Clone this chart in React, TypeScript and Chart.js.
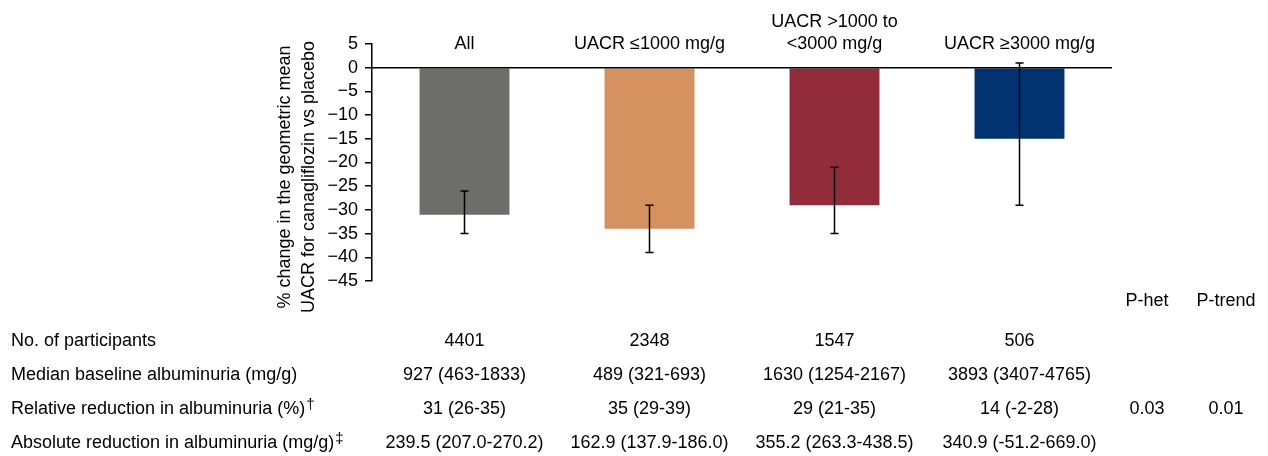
import React, { useEffect, useRef } from "react";
import { Chart, registerables } from "chart.js";

Chart.register(...registerables);

// ---------- data ----------
const categories: string[][] = [
  ["All"],
  ["UACR ≤1000 mg/g"],
  ["UACR >1000 to", "<3000 mg/g"],
  ["UACR ≥3000 mg/g"],
];
const changeValues = [-31, -34, -29, -15];
const ciUpper = [-26, -29, -21, 1];
const ciLower = [-35, -39, -35, -29];
const barColors = ["#6d6d6b", "#d3925f", "#912d3b", "#003370"];

const yMin = -45;
const yMax = 5;
const yStep = 5;
const yAxisTitle = ["% change in the geometric mean", "UACR for canagliflozin vs placebo"];

const rowLabels = [
  "No. of participants",
  "Median baseline albuminuria (mg/g)",
  "Relative reduction in albuminuria (%)",
  "Absolute reduction in albuminuria (mg/g)",
];
const rowMarks = ["", "", "†", "‡"];
const participants = ["4401", "2348", "1547", "506"];
const medianBaseline = ["927 (463-1833)", "489 (321-693)", "1630 (1254-2167)", "3893 (3407-4765)"];
const relativeReduction = ["31 (26-35)", "35 (29-39)", "29 (21-35)", "14 (-2-28)"];
const absoluteReduction = [
  "239.5 (207.0-270.2)",
  "162.9 (137.9-186.0)",
  "355.2 (263.3-438.5)",
  "340.9 (-51.2-669.0)",
];
const pHeaders = ["P-het", "P-trend"];
const pHet = ["", "", "0.03", ""];
const pTrend = ["", "", "0.01", ""];

const FONT = "'Liberation Sans', Arial, Helvetica, sans-serif";

const overlayPlugin = {
  id: "overlay",
  afterDatasetsDraw(chart: any) {
    const { ctx, chartArea, scales } = chart;
    const xs = scales.x;
    const ys = scales.y;
    ctx.save();
    ctx.strokeStyle = "#000";
    ctx.lineWidth = 1.5;
    // zero line
    const y0 = ys.getPixelForValue(0);
    ctx.beginPath();
    ctx.moveTo(chartArea.left, y0);
    ctx.lineTo(chartArea.right, y0);
    ctx.stroke();
    // error bars
    const cap = 4;
    changeValues.forEach((_, i) => {
      const cx = xs.getPixelForValue(i);
      const yt = ys.getPixelForValue(ciUpper[i]);
      const yb = ys.getPixelForValue(ciLower[i]);
      ctx.beginPath();
      ctx.moveTo(cx, yt);
      ctx.lineTo(cx, yb);
      ctx.moveTo(cx - cap, yt);
      ctx.lineTo(cx + cap, yt);
      ctx.moveTo(cx - cap, yb);
      ctx.lineTo(cx + cap, yb);
      ctx.stroke();
    });
    ctx.restore();
  },
  afterDraw(chart: any) {
    const { ctx, chartArea, scales } = chart;
    const xs = scales.x;
    ctx.save();
    ctx.fillStyle = "#000";
    ctx.font = `18px ${FONT}`;

    // category labels
    ctx.textAlign = "center";
    ctx.textBaseline = "alphabetic";
    categories.forEach((lines, i) => {
      const cx = xs.getPixelForValue(i);
      const n = lines.length;
      lines.forEach((ln, j) => {
        const by = chartArea.top + 5 - (n - 1 - j) * 22;
        ctx.fillText(ln, cx, by);
      });
    });

    // y-axis title (rotated)
    yAxisTitle.forEach((ln, j) => {
      ctx.save();
      ctx.translate(285 + j * 24, 177);
      ctx.rotate(-Math.PI / 2);
      ctx.textAlign = "center";
      ctx.textBaseline = "middle";
      ctx.fillText(ln, 0, 0);
      ctx.restore();
    });

    // table
    const tableRows = [participants, medianBaseline, relativeReduction, absoluteReduction];
    const baseY0 = chartArea.bottom + 65;
    const rowGap = 34;
    const pX = [chartArea.right + 35, chartArea.right + 114];

    ctx.textAlign = "center";
    pHeaders.forEach((h, k) => ctx.fillText(h, pX[k], chartArea.bottom + 25));

    rowLabels.forEach((label, r) => {
      const by = baseY0 + r * rowGap;
      ctx.textAlign = "left";
      ctx.font = `18px ${FONT}`;
      ctx.fillText(label, 11, by);
      if (rowMarks[r]) {
        const w = ctx.measureText(label).width;
        ctx.font = `15px ${FONT}`;
        ctx.fillText(rowMarks[r], 11 + w + 1, by - 5);
        ctx.font = `18px ${FONT}`;
      }
      ctx.textAlign = "center";
      tableRows[r].forEach((v, i) => {
        ctx.fillText(v, xs.getPixelForValue(i), by);
      });
      if (pHet[r]) ctx.fillText(pHet[r], pX[0], by);
      if (pTrend[r]) ctx.fillText(pTrend[r], pX[1], by);
    });

    ctx.restore();
  },
};

export default function App() {
  const canvasRef = useRef<HTMLCanvasElement | null>(null);

  useEffect(() => {
    if (!canvasRef.current) return;
    const chart = new Chart(canvasRef.current, {
      type: "bar",
      data: {
        labels: categories.map((c) => c.join(" ")),
        datasets: [
          {
            data: changeValues,
            backgroundColor: barColors,
            borderWidth: 0,
            barPercentage: 0.486,
            categoryPercentage: 1,
          },
        ],
      },
      options: {
        animation: false,
        responsive: false,
        devicePixelRatio: 1,
        layout: { padding: { left: 0, right: 156, top: 44, bottom: 175 } },
        plugins: {
          legend: { display: false },
          tooltip: { enabled: false },
          title: { display: false },
        },
        scales: {
          x: { display: false },
          y: {
            min: yMin,
            max: yMax,
            afterFit: (scale: any) => {
              scale.width = 372;
            },
            ticks: {
              stepSize: yStep,
              autoSkip: false,
              padding: 7,
              color: "#000",
              font: { family: FONT, size: 18 },
              callback: (v: any) => String(v).replace("-", "\u2212"),
            },
            grid: {
              drawOnChartArea: false,
              drawTicks: true,
              tickLength: 7,
              color: "#000",
              lineWidth: 1.5,
            },
            border: { display: true, color: "#000", width: 1.5 },
          },
        },
      },
      plugins: [overlayPlugin],
    });
    return () => chart.destroy();
  }, []);

  return (
    <div style={{ position: "absolute", left: 0, top: 0, width: 1268, height: 456, background: "#fff" }}>
      <canvas ref={canvasRef} width={1268} height={456} style={{ display: "block" }} />
    </div>
  );
}
